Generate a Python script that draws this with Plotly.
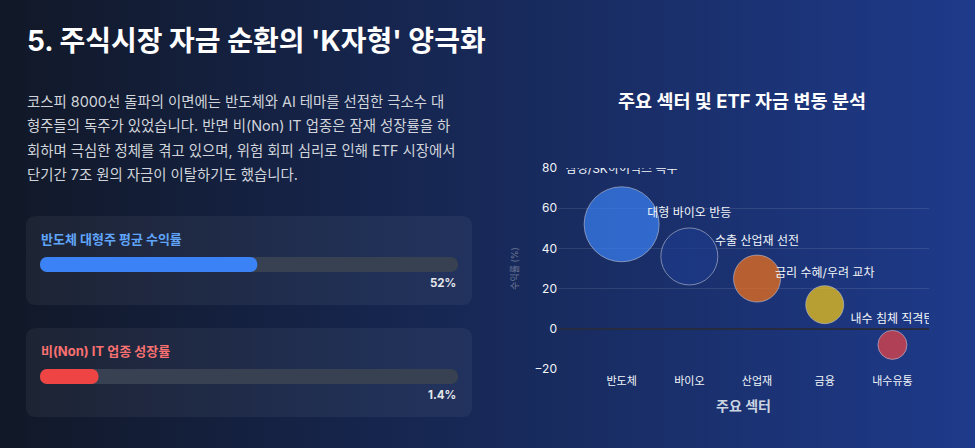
import base64
import plotly.graph_objects as go

W, H = 975, 448
FONT = "Inter, 'Noto Sans CJK KR', sans-serif"

# Sector bubble chart data
sectors = ['반도체', '바이오', '산업재', '금융', '내수유통']
sector_change = [52, 36, 25, 12, -8]
sector_flow = [75, 57, 47, 38, 29]
sector_notes = ['삼성/SK하이닉스 독주', '대형 바이오 반등', '수출 산업재 선전',
                '금리 수혜/우려 교차', '내수 침체 직격탄']
sector_colors = ['#3b82f6', '#1e3a8a', '#f97316', '#facc15', '#ef4444']

# Progress cards on the left
gauge_names = ['반도체 대형주 평균 수익률', '비(Non) IT 업종 성장률']
gauge_fill = [52, 14]
gauge_labels = ['52%', '1.4%']
gauge_colors = ['#3b82f6', '#ef4444']
gauge_title_colors = ['#60a5fa', '#f87171']
gauge_total = 100

title = "5. 주식시장 자금 순환의 'K자형' 양극화"
paragraph = [
    '코스피 8000선 돌파의 이면에는 반도체와 AI 테마를 선점한 극소수 대',
    '형주들의 독주가 있었습니다. 반면 비(Non) IT 업종은 잠재 성장률을 하',
    '회하며 극심한 정체를 겪고 있으며, 위험 회피 심리로 인해 ETF 시장에서',
    '단기간 7조 원의 자금이 이탈하기도 했습니다.',
]


def px_x(x):
    return x / W


def px_y(y):
    return 1 - y / H


def rounded_rect(x0, y0, x1, y1, r):
    # pixel box -> paper-space path with rounded corners
    rx, ry = r / W, r / H
    a, b, c, d = px_x(x0), px_y(y0), px_x(x1), px_y(y1)
    return (f'M{a + rx},{b} L{c - rx},{b} Q{c},{b} {c},{b - ry} '
            f'L{c},{d + ry} Q{c},{d} {c - rx},{d} L{a + rx},{d} '
            f'Q{a},{d} {a},{d + ry} L{a},{b - ry} Q{a},{b} {a + rx},{b} Z')


# background gradient as an inline svg
svg = ('<svg xmlns="http://www.w3.org/2000/svg" width="975" height="448" '
       'viewBox="0 0 975 448" preserveAspectRatio="none">'
       '<defs><linearGradient id="g" x1="0" y1="0" x2="1" y2="0">'
       '<stop offset="0" stop-color="#111827"/><stop offset="1" stop-color="#1e3a8a"/>'
       '</linearGradient></defs><rect width="975" height="448" fill="url(#g)"/></svg>')
bg_uri = 'data:image/svg+xml;base64,' + base64.b64encode(svg.encode()).decode()

fig = go.Figure()

# Bubbles
fig.add_trace(go.Scatter(
    x=sectors, y=sector_change,
    mode='markers+text',
    text=sector_notes,
    textposition='top center',
    textfont=dict(family=FONT, size=12, color='#f1f5f9'),
    marker=dict(size=sector_flow, sizemode='diameter', color=sector_colors,
                opacity=0.7, line=dict(color='rgba(255,255,255,0.6)', width=1)),
    cliponaxis=True,
    hoverinfo='skip',
    xaxis='x', yaxis='y'
))

# Progress bars: grey track, coloured fill on top (explicit base -> both ends rounded)
bar_w = 15 / 112
zeros = [0] * len(gauge_names)
fig.add_trace(go.Bar(
    y=gauge_names, x=[gauge_total] * len(gauge_names), base=zeros,
    orientation='h', width=bar_w,
    marker=dict(color='#374151', cornerradius=7.5, line=dict(width=0)),
    hoverinfo='skip', xaxis='x2', yaxis='y2'
))
fig.add_trace(go.Bar(
    y=gauge_names, x=gauge_fill, base=zeros,
    orientation='h', width=bar_w,
    marker=dict(color=gauge_colors, cornerradius=7.5, line=dict(width=0)),
    hoverinfo='skip', xaxis='x2', yaxis='y2'
))

annotations = [dict(
    text=f'<b>{title}</b>', x=px_x(25), y=px_y(41), xref='paper', yref='paper',
    xanchor='left', yanchor='middle', showarrow=False,
    font=dict(family=FONT, size=28, color='#ffffff')
)]
for i, line in enumerate(paragraph):
    annotations.append(dict(
        text=line, x=px_x(25), y=px_y(101 + i * 24.5), xref='paper', yref='paper',
        xanchor='left', yanchor='middle', showarrow=False,
        font=dict(family=FONT, size=14.4, color='#d1d5db')
    ))
annotations.append(dict(
    text='<b>주요 섹터 및 ETF 자금 변동 분석</b>', x=px_x(742), y=px_y(101),
    xref='paper', yref='paper', xanchor='center', yanchor='middle', showarrow=False,
    font=dict(family=FONT, size=18.5, color='#ffffff')
))
for name, lab, col in zip(gauge_names, gauge_labels, gauge_title_colors):
    annotations.append(dict(
        text=f'<b>{name}</b>', x=0, y=name, xref='x2', yref='y2',
        xanchor='left', yanchor='middle', xshift=-1, yshift=25.5, showarrow=False,
        font=dict(family=FONT, size=13, color=col)
    ))
    annotations.append(dict(
        text=f'<b>{lab}</b>', x=gauge_total, y=name, xref='x2', yref='y2',
        xanchor='right', yanchor='middle', yshift=-18.5, showarrow=False,
        font=dict(family=FONT, size=11.5, color='#e5e7eb')
    ))

shapes = [
    dict(type='path', path=rounded_rect(26, 216, 472, 305, 10), xref='paper', yref='paper',
         fillcolor='rgba(255,255,255,0.05)', line=dict(width=0), layer='below'),
    dict(type='path', path=rounded_rect(26, 328, 472, 417, 10), xref='paper', yref='paper',
         fillcolor='rgba(255,255,255,0.05)', line=dict(width=0), layer='below'),
]

fig.update_layout(
    width=W, height=H,
    margin=dict(l=0, r=0, t=0, b=0, autoexpand=False),
    paper_bgcolor='#111827',
    plot_bgcolor='rgba(0,0,0,0)',
    showlegend=False,
    barmode='overlay',
    font=dict(family=FONT, color='#e5e7eb'),
    images=[dict(source=bg_uri, xref='paper', yref='paper', x=0, y=1, sizex=1, sizey=1,
                 sizing='stretch', layer='below')],
    shapes=shapes,
    annotations=annotations,
    xaxis=dict(
        domain=[px_x(558), px_x(929)], anchor='y', automargin=False,
        range=[-0.94, 4.54], showgrid=False, zeroline=False, showline=False,
        ticklabelstandoff=4,
        tickfont=dict(family=FONT, size=11, color='#f1f5f9'),
        title=dict(text='<b>주요 섹터</b>', font=dict(family=FONT, size=14, color='#cbd5e1'),
                   standoff=14),
    ),
    yaxis=dict(
        domain=[px_y(369), px_y(168)], anchor='x', automargin=False,
        range=[-20, 80], dtick=20,
        gridcolor='rgba(255,255,255,0.1)', gridwidth=1,
        zeroline=True, zerolinecolor='#262b40', zerolinewidth=2,
        tickfont=dict(family=FONT, size=12, color='#f1f5f9'),
        title=dict(text='수익률 (%)', font=dict(family=FONT, size=9, color='rgba(255,255,255,0.35)'),
                   standoff=14),
    ),
    xaxis2=dict(domain=[px_x(40), px_x(458)], anchor='y2', range=[0, gauge_total],
                visible=False, fixedrange=True, automargin=False),
    yaxis2=dict(domain=[px_y(432.5), px_y(208.5)], anchor='x2', type='category',
                categoryorder='array', categoryarray=gauge_names,
                range=[1.5, -0.5], visible=False, fixedrange=True, automargin=False),
)

# drop the default page margin so the figure sits at the top-left corner
fig.write_html("out.html", config={'displayModeBar': False},
               post_script="document.body.style.margin='0';")
